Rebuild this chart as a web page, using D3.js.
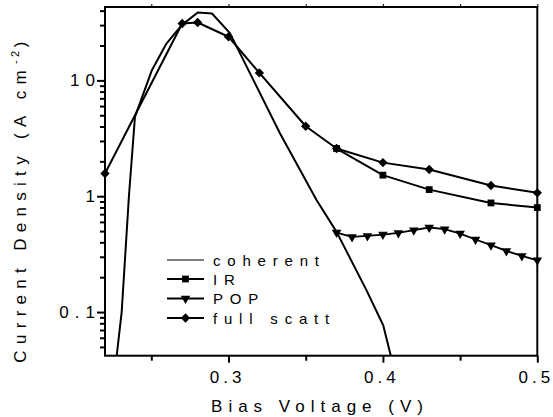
<!DOCTYPE html>
<html>
<head>
<meta charset="utf-8">
<script src="https://cdn.jsdelivr.net/npm/d3@7"></script>
<style>
  html, body { margin: 0; padding: 0; background: #fff; }
  svg { display: block; font-family: "Liberation Sans", Arial, sans-serif; }
</style>
</head>
<body>
<svg id="chart" width="553" height="417"></svg>
<script>
// Bias voltage (V) and current density (A cm^-2) for each transport model
const coherentV = [0.2270, 0.2308, 0.2355, 0.2394, 0.2502, 0.2598, 0.2697, 0.2801, 0.2893, 0.3009, 0.3333, 0.3571, 0.3700, 0.3894, 0.4002, 0.4055];
const coherentJ = [0.036, 0.100, 1.00, 4.84, 12.1, 20.8, 30.0, 38.5, 37.8, 25.6, 3.50, 0.924, 0.492, 0.154, 0.0769, 0.040];

const irV = [0.37, 0.40, 0.43, 0.47, 0.50];
const irJ = [2.58, 1.52, 1.14, 0.875, 0.798];

const popV = [0.37, 0.38, 0.39, 0.40, 0.41, 0.42, 0.43, 0.44, 0.45, 0.46, 0.47, 0.48, 0.49, 0.50];
const popJ = [0.486, 0.445, 0.454, 0.467, 0.482, 0.509, 0.537, 0.519, 0.476, 0.423, 0.378, 0.337, 0.305, 0.280];

const fullV = [0.22, 0.27, 0.28, 0.30, 0.32, 0.35, 0.37, 0.40, 0.43, 0.47, 0.50];
const fullJ = [1.57, 31.0, 31.6, 23.8, 11.6, 4.02, 2.58, 1.95, 1.70, 1.237, 1.069];

const xMajorTicks = [0.3, 0.4, 0.5];
const xMinorTicks = [0.25, 0.35, 0.45];
const yMajorTicks = [0.1, 1, 10];
const yMinorTicks = [0.05, 0.06, 0.07, 0.08, 0.09, 0.2, 0.3, 0.4, 0.5, 0.6, 0.7, 0.8, 0.9,
                     2, 3, 4, 5, 6, 7, 8, 9, 20, 30, 40];

const legendLabels = ["coherent", "IR", "POP", "full scatt"];

const svg = d3.select("#chart");
const x = d3.scaleLinear().domain([0.22, 0.5]).range([105, 537.3]);
const y = d3.scaleLog().domain([0.042, 43]).range([355.7, 7]);

const fmt = d => (d >= 1 ? d3.format("d")(d) : d3.format(".1f")(d));

svg.append("clipPath").attr("id", "plotClip")
  .append("rect")
  .attr("x", x.range()[0]).attr("y", y.range()[1])
  .attr("width", x.range()[1] - x.range()[0])
  .attr("height", y.range()[0] - y.range()[1]);

// Axes
function styleAxis(g) {
  g.select(".domain").remove();
  g.selectAll(".tick line").attr("stroke", "#000").attr("stroke-width", 2);
  g.selectAll(".tick text")
    .attr("fill", "#000")
    .style("font-size", "17px")
    .style("letter-spacing", "4px");
}

svg.append("g").attr("transform", `translate(0,${y.range()[0]})`)
  .call(d3.axisBottom(x).tickValues(xMajorTicks).tickSize(7).tickPadding(8).tickFormat(d3.format(".1f")))
  .call(styleAxis)
  .selectAll(".tick text").attr("dx", "-1.5px");

svg.append("g").attr("transform", `translate(0,${y.range()[0]})`)
  .call(d3.axisBottom(x).tickValues(xMinorTicks).tickSize(5).tickFormat(""))
  .call(styleAxis);

// short marks along the top border
svg.append("g").attr("transform", `translate(0,${y.range()[1]})`)
  .call(d3.axisTop(x).tickValues(xMajorTicks.concat(xMinorTicks)).tickSize(3).tickFormat(""))
  .call(styleAxis)
  .selectAll(".tick line").attr("stroke-width", 1);

svg.append("g").attr("transform", `translate(${x.range()[0]},0)`)
  .call(d3.axisLeft(y).tickValues(yMajorTicks).tickSize(8).tickPadding(-4).tickFormat(fmt))
  .call(styleAxis)
  .selectAll(".tick text").style("letter-spacing", "6px");

svg.append("g").attr("transform", `translate(${x.range()[0]},0)`)
  .call(d3.axisLeft(y).tickValues(yMinorTicks).tickSize(5).tickFormat(""))
  .call(styleAxis);

// Plot frame
svg.append("rect")
  .attr("x", x.range()[0]).attr("y", y.range()[1])
  .attr("width", x.range()[1] - x.range()[0])
  .attr("height", y.range()[0] - y.range()[1])
  .attr("fill", "none").attr("stroke", "#000").attr("stroke-width", 2);

// Series
const plot = svg.append("g").attr("clip-path", "url(#plotClip)");
const line = d3.line().x(d => x(d[0])).y(d => y(d[1]));
const zip = (a, b) => a.map((v, i) => [v, b[i]]);

const symbols = {
  IR: d3.symbol().type(d3.symbolSquare).size(46),
  POP: d3.symbol().type(d3.symbolTriangle).size(40),
  full: d3.symbol().type(d3.symbolSquare).size(44)
};

const series = [
  { key: "coherent", pts: zip(coherentV, coherentJ), sym: null, rot: 0 },
  { key: "IR", pts: zip(irV, irJ), sym: symbols.IR, rot: 0 },
  { key: "POP", pts: zip(popV, popJ), sym: symbols.POP, rot: 180 },
  { key: "full", pts: zip(fullV, fullJ), sym: symbols.full, rot: 45 }
];

series.forEach(s => {
  plot.append("path").datum(s.pts)
    .attr("d", line)
    .attr("fill", "none").attr("stroke", "#000")
    .attr("stroke-width", s.key === "POP" ? 1.8 : 2)
    .attr("stroke-linejoin", "round");
});
series.forEach(s => {
  if (!s.sym) return;
  svg.append("g").selectAll("path").data(s.pts).join("path")
    .attr("d", s.sym)
    .attr("transform", d => `translate(${x(d[0])},${y(d[1])}) rotate(${s.rot})`)
    .attr("fill", "#000");
});

// Legend
const legend = svg.append("g");
const legendSyms = [null, symbols.IR, symbols.POP, symbols.full];
const legendRot = [0, 0, 180, 45];
const legendY = [260, 279, 298.5, 318];
legendLabels.forEach((lab, i) => {
  const row = legend.append("g").attr("transform", `translate(0,${legendY[i]})`);
  row.append("line").attr("x1", 167).attr("x2", 204)
    .attr("stroke", "#000").attr("stroke-width", i === 0 ? 1.2 : 2);
  if (legendSyms[i]) {
    row.append("path").attr("d", legendSyms[i])
      .attr("transform", `translate(185.5,0) rotate(${legendRot[i]})`)
      .attr("fill", "#000");
  }
  row.append("text").attr("x", 213).attr("y", 5.5)
    .style("font-size", "15px").style("letter-spacing", "6.8px")
    .text(lab);
});

// Axis titles
svg.append("text")
  .attr("x", 320).attr("y", 412)
  .attr("text-anchor", "middle")
  .style("font-size", "17px").style("letter-spacing", "6px")
  .text("Bias Voltage (V)");

const yt = svg.append("text")
  .attr("transform", "translate(26,199) rotate(-90)")
  .attr("text-anchor", "middle")
  .style("font-size", "17px").style("letter-spacing", "6.3px");
yt.append("tspan").text("Current Density (A cm");
yt.append("tspan").attr("dy", -7).style("font-size", "11px").style("letter-spacing", "3.5px").text("-2");
yt.append("tspan").attr("dy", 7).text(")");
</script>
</body>
</html>
